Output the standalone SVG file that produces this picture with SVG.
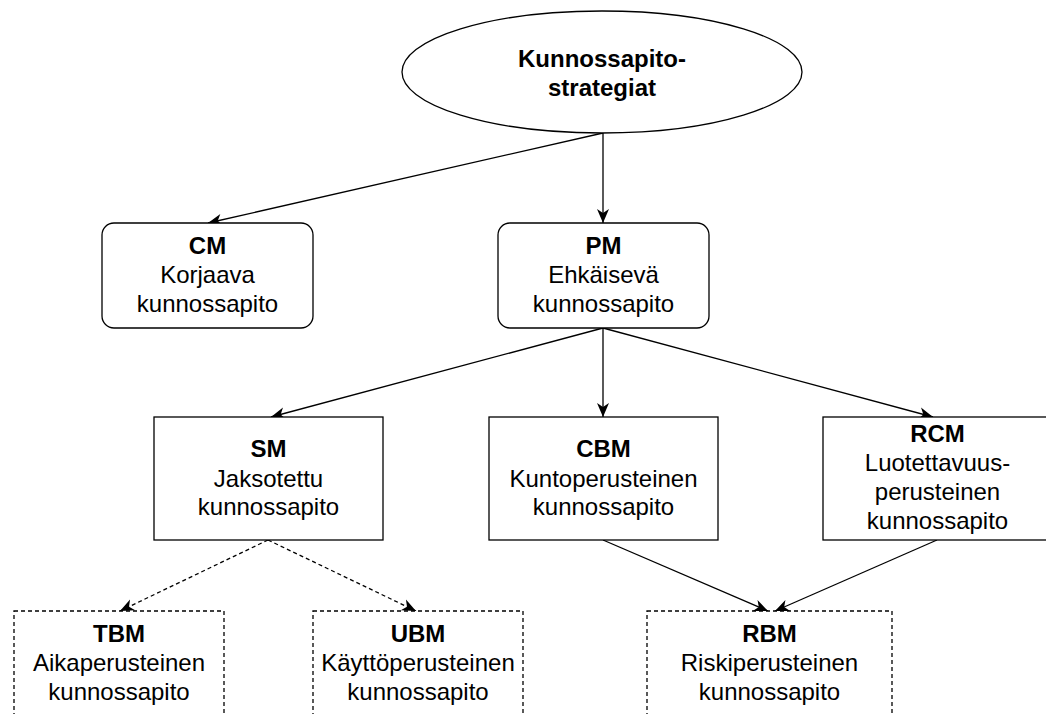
<svg xmlns="http://www.w3.org/2000/svg" width="1046" height="714" viewBox="0 0 1046 714">
<style>
.box{fill:#fff;stroke:#000;stroke-width:1.3}
.dbox{fill:#fff;stroke:#000;stroke-width:1.3;stroke-dasharray:4 3}
.ln{fill:none;stroke:#000;stroke-width:1.3}
.dl{fill:none;stroke:#000;stroke-width:1.3;stroke-dasharray:4 3}
text{font-family:"Liberation Sans",Arial,sans-serif;font-size:24px;fill:#000;text-anchor:middle}
.b{font-weight:bold}
</style>
<defs>
<marker id="ah" markerUnits="userSpaceOnUse" markerWidth="16" markerHeight="14" refX="14" refY="6" orient="auto" overflow="visible">
<path d="M0,0 L14,6 L0,12 L4,6 Z" fill="#000" stroke="none"/>
</marker>
</defs>
<rect width="1046" height="714" fill="#fff"/>
<g id="connectors">
<path class="ln" d="M603,133 L208,223" marker-end="url(#ah)"/>
<path class="ln" d="M603,133 L603,223" marker-end="url(#ah)"/>
<path class="ln" d="M603,328 L271,417" marker-end="url(#ah)"/>
<path class="ln" d="M603,328 L603,417" marker-end="url(#ah)"/>
<path class="ln" d="M603,328 L933,417" marker-end="url(#ah)"/>
<path class="dl" d="M268,540 L120,611" marker-end="url(#ah)"/>
<path class="dl" d="M268,540 L416,611" marker-end="url(#ah)"/>
<path class="ln" d="M603,540 L768,611" marker-end="url(#ah)"/>
<path class="ln" d="M937,540 L775,611" marker-end="url(#ah)"/>
</g>
<g id="root">
<ellipse class="box" cx="602" cy="72" rx="200" ry="61"/>
<text class="b" x="602" y="67">Kunnossapito-</text>
<text class="b" x="602" y="96">strategiat</text>
</g>
<g id="cm">
<rect class="box" x="102" y="223" width="211" height="105" rx="12"/>
<text class="b" x="207.5" y="254">CM</text>
<text x="207.5" y="283">Korjaava</text>
<text x="207.5" y="312">kunnossapito</text>
</g>
<g id="pm">
<rect class="box" x="498" y="223" width="211" height="105" rx="12"/>
<text class="b" x="603.5" y="254">PM</text>
<text x="603.5" y="283">Ehkäisevä</text>
<text x="603.5" y="312">kunnossapito</text>
</g>
<g id="sm">
<rect class="box" x="154" y="417" width="229" height="123"/>
<text class="b" x="268.5" y="457">SM</text>
<text x="268.5" y="487">Jaksotettu</text>
<text x="268.5" y="515">kunnossapito</text>
</g>
<g id="cbm">
<rect class="box" x="489" y="417" width="229" height="123"/>
<text class="b" x="603.5" y="457">CBM</text>
<text x="603.5" y="487">Kuntoperusteinen</text>
<text x="603.5" y="515">kunnossapito</text>
</g>
<g id="rcm">
<rect class="box" x="823" y="417" width="229" height="123"/>
<text class="b" x="937.5" y="442">RCM</text>
<text x="937.5" y="471">Luotettavuus-</text>
<text x="937.5" y="500">perusteinen</text>
<text x="937.5" y="529">kunnossapito</text>
</g>
<g id="tbm">
<rect class="dbox" x="14" y="611" width="210" height="123"/>
<text class="b" x="119" y="642">TBM</text>
<text x="119" y="671">Aikaperusteinen</text>
<text x="119" y="700">kunnossapito</text>
</g>
<g id="ubm">
<rect class="dbox" x="313" y="611" width="210" height="123"/>
<text class="b" x="418" y="642">UBM</text>
<text x="418" y="671">Käyttöperusteinen</text>
<text x="418" y="700">kunnossapito</text>
</g>
<g id="rbm">
<rect class="dbox" x="647" y="611" width="245" height="123"/>
<text class="b" x="769.5" y="642">RBM</text>
<text x="769.5" y="671">Riskiperusteinen</text>
<text x="769.5" y="700">kunnossapito</text>
</g>
</svg>
